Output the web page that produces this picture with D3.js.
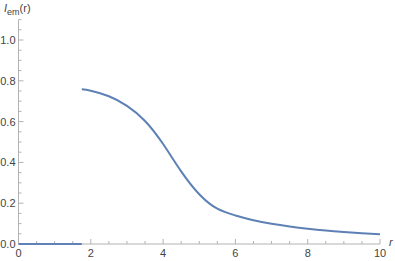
<!DOCTYPE html>
<html lang="en">
<head>
    <meta charset="UTF-8">
    <title>I_em(r)</title>
    <script src="https://cdn.jsdelivr.net/npm/d3@7"></script>
    <style>
        body { margin: 0; background: #fff; }
        svg { font-family: "Liberation Sans", Arial, sans-serif; }
        .tick-label { font-size: 11px; fill: #444; }
    </style>
</head>
<body>
    <svg width="395" height="261"></svg>

    <script>
        // zero branch for r below the jump
        var zeroR = [0, 1.75];
        var zeroI = [0, 0];

        // emission curve
        var rVals = [1.75, 2, 2.5, 3, 3.5, 4, 4.5, 5, 5.5, 6, 6.5, 7, 7.5, 8, 8.5, 9, 9.5, 10];
        var iVals = [0.758, 0.751, 0.724, 0.677, 0.603, 0.49, 0.356, 0.244, 0.173, 0.14, 0.116, 0.099, 0.086, 0.075, 0.066, 0.059, 0.053, 0.048];

        var xTicks = [0, 2, 4, 6, 8, 10];
        var yTicks = [0.0, 0.2, 0.4, 0.6, 0.8, 1.0];

        var svg = d3.select("svg");
        var axisColor = "#b3b3b3";
        var lineColor = "#5e81b5";

        var x = d3.scaleLinear().domain([0, 10]).range([18.5, 380]);
        var y = d3.scaleLinear().domain([0, 1.1]).range([244, 19.6]);

        // axes lines
        svg.append("line")
            .attr("x1", x(0)).attr("x2", x(10))
            .attr("y1", y(0)).attr("y2", y(0))
            .attr("stroke", axisColor);
        svg.append("line")
            .attr("x1", x(0)).attr("x2", x(0))
            .attr("y1", y(0)).attr("y2", y(1.1))
            .attr("stroke", axisColor);

        // minor + major ticks on x
        d3.range(0, 10.001, 0.5).forEach(function(v) {
            var major = Math.abs(v - Math.round(v / 2) * 2) < 1e-6;
            svg.append("line")
                .attr("x1", x(v)).attr("x2", x(v))
                .attr("y1", y(0)).attr("y2", y(0) - (major ? 5 : 3))
                .attr("stroke", axisColor);
        });
        // minor + major ticks on y
        d3.range(0, 1.1001, 0.05).forEach(function(v) {
            var major = Math.abs(v * 5 - Math.round(v * 5)) < 1e-6;
            svg.append("line")
                .attr("x1", x(0)).attr("x2", x(0) + (major ? 5 : 3))
                .attr("y1", y(v)).attr("y2", y(v))
                .attr("stroke", axisColor);
        });

        // tick labels
        svg.selectAll(".xl")
            .data(xTicks)
            .enter().append("text")
            .attr("class", "tick-label")
            .attr("x", function(d) { return x(d); })
            .attr("y", 257)
            .attr("text-anchor", "middle")
            .text(function(d) { return d; });

        svg.selectAll(".yl")
            .data(yTicks)
            .enter().append("text")
            .attr("class", "tick-label")
            .attr("x", x(0) - 3)
            .attr("y", function(d) { return y(d) + 4; })
            .attr("text-anchor", "end")
            .text(function(d) { return d.toFixed(1); });

        // axis labels
        svg.append("text")
            .attr("class", "tick-label")
            .attr("x", 389)
            .attr("y", 246)
            .style("font-style", "italic")
            .text("r");

        var title = svg.append("text")
            .attr("class", "tick-label")
            .attr("x", 4)
            .attr("y", 12);
        title.append("tspan").style("font-style", "italic").text("I");
        title.append("tspan").attr("dy", 3).style("font-size", "9px").text("em");
        title.append("tspan").attr("dy", -3).text("(r)");

        // curves
        var line = d3.line()
            .x(function(d) { return x(d[0]); })
            .y(function(d) { return y(d[1]); })
            .curve(d3.curveNatural);

        svg.append("path")
            .datum(d3.zip(zeroR, zeroI))
            .attr("fill", "none")
            .attr("stroke", lineColor)
            .attr("stroke-width", 2)
            .attr("d", line);

        svg.append("path")
            .datum(d3.zip(rVals, iVals))
            .attr("fill", "none")
            .attr("stroke", lineColor)
            .attr("stroke-width", 2)
            .attr("d", line);
    </script>
</body>
</html>
